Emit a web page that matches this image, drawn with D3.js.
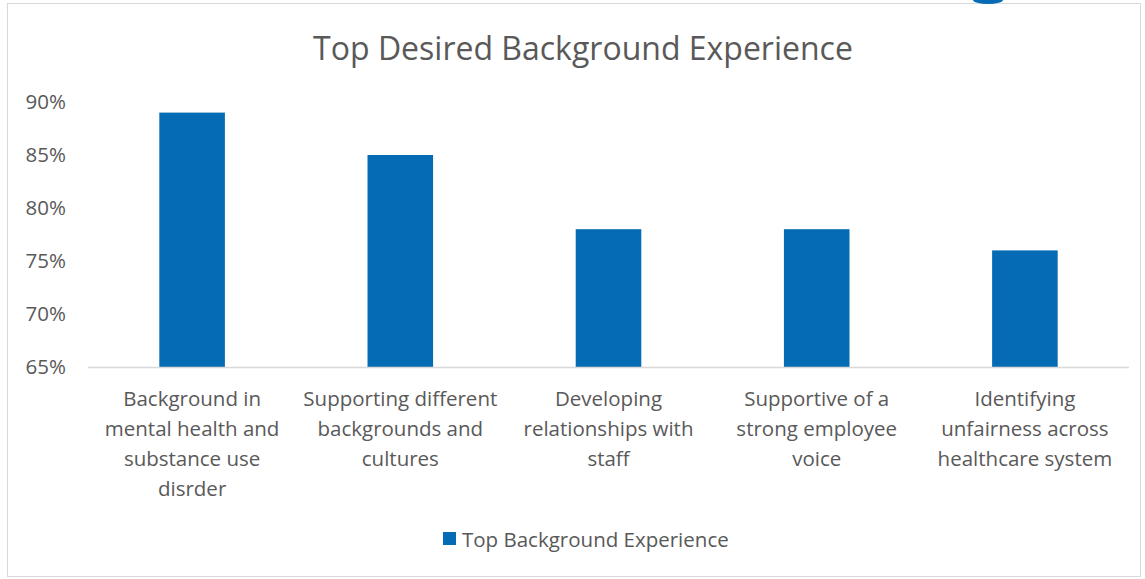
<!DOCTYPE html>
<html>
<head>
<meta charset="utf-8">
<script src="https://cdn.jsdelivr.net/npm/d3@7"></script>
<style>
  body { margin: 0; background: #fff; }
  text { font-family: "Open Sans", sans-serif; fill: #595959; }
</style>
</head>
<body>
<svg id="chart" width="1145" height="579"></svg>
<script>
// chart data
var categories = [
  ["Background in", "mental health and", "substance use", "disrder"],
  ["Supporting different", "backgrounds and", "cultures"],
  ["Developing", "relationships with", "staff"],
  ["Supportive of a", "strong employee", "voice"],
  ["Identifying", "unfairness across", "healthcare system"]
];
var values = [0.89, 0.85, 0.78, 0.78, 0.76];
var yTicks = [0.65, 0.70, 0.75, 0.80, 0.85, 0.90];
var seriesName = "Top Background Experience";
var title = "Top Desired Background Experience";

var svg = d3.select("#chart");
var blue = "#066bb5";

// outer chart border
svg.append("rect")
    .attr("x", 7.5).attr("y", 3.5)
    .attr("width", 1133).attr("height", 573)
    .attr("fill", "none").attr("stroke", "#d9d9d9");

// little blue tab cut off at top edge
svg.append("ellipse")
    .attr("cx", 988).attr("cy", 0)
    .attr("rx", 15).attr("ry", 4)
    .attr("fill", blue);

var x = d3.scaleBand()
    .domain(d3.range(categories.length))
    .range([88, 1129])
    .paddingInner(0.685)
    .paddingOuter(0.3425);

var y = d3.scaleLinear()
    .domain([0.65, 0.90])
    .range([367, 102]);

// title
svg.append("text")
    .attr("x", 583).attr("y", 60)
    .attr("text-anchor", "middle")
    .style("font-size", "32px")
    .text(title);

// y tick labels
svg.selectAll("text.ytick")
    .data(yTicks)
  .enter().append("text")
    .attr("class", "ytick")
    .attr("x", 66)
    .attr("y", function(d) { return y(d); })
    .attr("dy", "0.35em")
    .attr("text-anchor", "end")
    .style("font-size", "20.5px")
    .text(d3.format(".0%"));

// bars
svg.selectAll("rect.bar")
    .data(values)
  .enter().append("rect")
    .attr("class", "bar")
    .attr("x", function(d, i) { return x(i); })
    .attr("y", function(d) { return y(d); })
    .attr("width", x.bandwidth())
    .attr("height", function(d) { return y(0.65) - y(d); })
    .attr("fill", blue);

// baseline axis
svg.append("line")
    .attr("x1", x.range()[0]).attr("x2", x.range()[1])
    .attr("y1", y(0.65) + 0.5).attr("y2", y(0.65) + 0.5)
    .attr("stroke", "#d9d9d9").attr("stroke-width", 1.5);

// category labels, wrapped
var labels = svg.selectAll("text.xlabel")
    .data(categories)
  .enter().append("text")
    .attr("class", "xlabel")
    .attr("text-anchor", "middle")
    .style("font-size", "20.5px")
    .attr("transform", function(d, i) {
      return "translate(" + (x(i) + x.bandwidth() / 2) + ",406)";
    });

labels.selectAll("tspan")
    .data(function(d) { return d; })
  .enter().append("tspan")
    .attr("x", 0)
    .attr("y", function(d, i) { return i * 30; })
    .text(function(d) { return d; });

// legend
var legend = svg.append("g").attr("transform", "translate(443,532)");
legend.append("rect")
    .attr("width", 13).attr("height", 13)
    .attr("fill", blue);
legend.append("text")
    .attr("x", 19).attr("y", 14.5)
    .style("font-size", "20.5px")
    .text(seriesName);
</script>
</body>
</html>
